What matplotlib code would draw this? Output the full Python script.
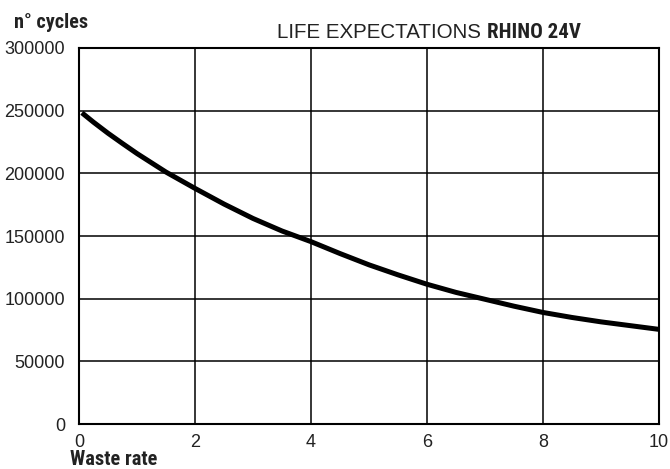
import matplotlib.pyplot as plt
import numpy as np

# values
waste_rate = [0.05, 0.25, 0.5, 0.75, 1, 1.5, 2, 2.5, 3, 3.5, 4, 4.5, 5,
              5.5, 6, 6.5, 7, 7.5, 8, 8.5, 9, 9.5, 10]
cycles = [248300, 240800, 232000, 223800, 215800, 201000, 188000, 175500,
          164000, 154000, 145500, 136000, 127000, 119000, 111500, 105000,
          99500, 94000, 89000, 85000, 81500, 78500, 75500]

x_ticks = [0, 2, 4, 6, 8, 10]
y_ticks = [0, 50000, 100000, 150000, 200000, 250000, 300000]

txt_col = "#222222"
narrow = ["Roboto Condensed", "DejaVu Sans Condensed", "Liberation Sans Narrow", "DejaVu Sans"]
regular = ["Liberation Sans", "DejaVu Sans"]

fig = plt.figure(figsize=(6.7, 4.69), dpi=100)
ax = fig.add_axes([79/670, 1 - 424/469, 580/670, 376/469])

ax.plot(waste_rate, cycles, color="black", linewidth=3.6, solid_capstyle="butt")

ax.set_xlim(0, 10)
ax.set_ylim(0, 300000)
ax.set_xticks(x_ticks)
ax.set_yticks(y_ticks)
ax.set_xticklabels([str(v) for v in x_ticks], family=regular, fontsize=13, color=txt_col)
ax.set_yticklabels([str(v) for v in y_ticks], family=regular, fontsize=13, color=txt_col)
ax.tick_params(axis="both", length=0)
ax.tick_params(axis="x", pad=7)
ax.tick_params(axis="y", pad=10)
ax.grid(True, color="black", linewidth=1.1)
ax.set_axisbelow(True)
for s in ax.spines.values():
    s.set_linewidth(1.5)
    s.set_color("black")

fig.text(14/670, 1 - 28/469, "n° cycles", family=narrow, fontweight="bold",
         fontstretch="condensed", fontsize=14.5, color=txt_col, ha="left", va="baseline")
fig.text(70/670, 1 - 465/469, "Waste rate", family=narrow, fontweight="bold",
         fontstretch="condensed", fontsize=14.7, color=txt_col, ha="left", va="baseline")
fig.text(277/670, 1 - 37.5/469, "LIFE EXPECTATIONS", family=regular,
         fontsize=14.8, color=txt_col, ha="left", va="baseline")
fig.text(487/670, 1 - 37.5/469, "RHINO 24V", family=narrow, fontweight="bold",
         fontstretch="condensed", fontsize=15, color=txt_col, ha="left", va="baseline")

fig.savefig("out.png", dpi=100)
